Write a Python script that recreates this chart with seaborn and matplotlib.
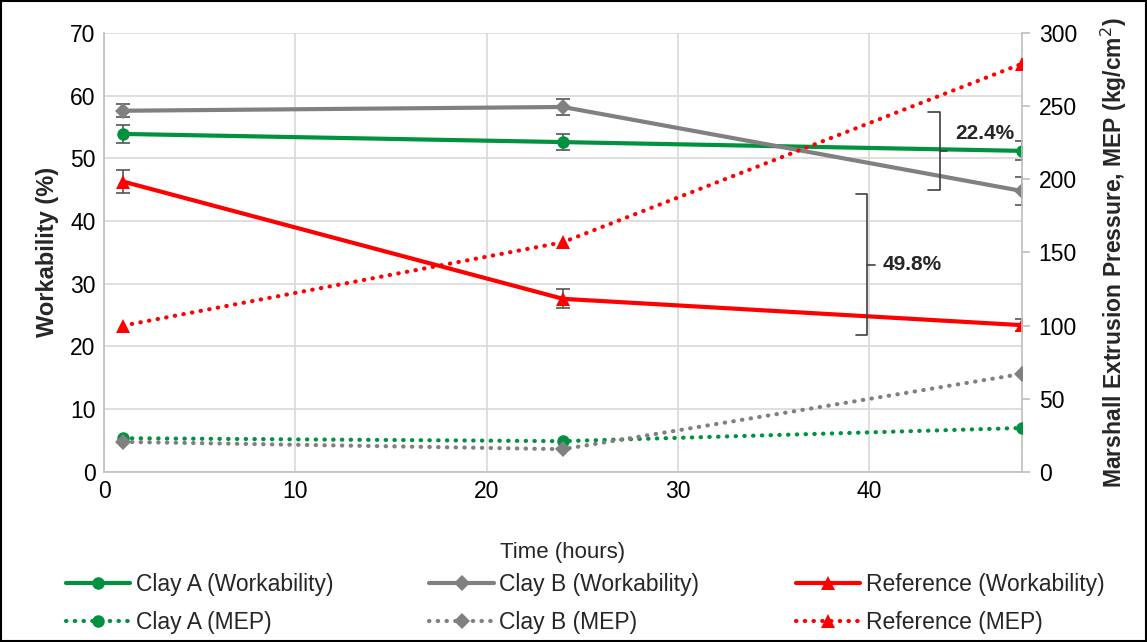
import matplotlib as mpl
import matplotlib.pyplot as plt
plt.switch_backend('Agg')
import seaborn as sns
import numpy as np
import pandas as pd
from matplotlib.font_manager import findfont, FontProperties

# data
hours = [1, 24, 48]
clayA_work = [53.9, 52.6, 51.2]
clayB_work = [57.6, 58.2, 44.8]
ref_work = [46.3, 27.6, 23.4]
clayA_work_err = [1.5, 1.3, 1.5]
clayB_work_err = [1.0, 1.2, 2.2]
ref_work_err = [1.8, 1.5, 1.0]
clayA_mep = [23, 21, 30]
clayB_mep = [20.5, 15.5, 67]
ref_mep = [100, 157, 279]
brackets = [
    # x, y_low, y_high, label
    (43.7, 45.0, 57.4, '22.4%'),
    (39.9, 21.8, 44.3, '49.8%'),
]

sns.set_theme(style='whitegrid')
fam = 'Liberation Sans Narrow'
try:
    findfont(FontProperties(family=fam), fallback_to_default=False)
except Exception:
    fam = 'Liberation Sans'
plt.rcParams['font.family'] = [fam, 'DejaVu Sans']

green = '#00923F'
grey = '#808080'
red = '#FF0000'

fig = plt.figure(figsize=(11.47, 6.42), dpi=100)
ax = fig.add_axes([0.0907, 0.265, 0.8003, 0.6836])
ax2 = ax.twinx()

series = [
    ('Clay A (Workability)', ax, clayA_work, clayA_work_err, green, 'o', '-', 9),
    ('Clay A (MEP)', ax2, clayA_mep, None, green, 'o', ':', 9),
    ('Clay B (Workability)', ax, clayB_work, clayB_work_err, grey, 'D', '-', 8),
    ('Clay B (MEP)', ax2, clayB_mep, None, grey, 'D', ':', 8),
    ('Reference (Workability)', ax, ref_work, ref_work_err, red, '^', '-', 10),
    ('Reference (MEP)', ax2, ref_mep, None, red, '^', ':', 10),
]
handles = []
for name, a, vals, err, col, mk, ls, ms in series:
    df = pd.DataFrame({'hours': hours, 'val': vals})
    sns.lineplot(data=df, x='hours', y='val', ax=a, color=col, marker=mk,
                 markersize=ms, markeredgewidth=0, linewidth=3, linestyle=ls,
                 dashes=False, label=name, legend=False, zorder=3)
    line = a.get_lines()[-1]
    if ls == ':':
        line.set_linestyle((0, (0.1, 2.0)))
        line.set_dash_capstyle('round')
    handles.append(line)
    if err is not None:
        a.errorbar(hours, vals, yerr=err, fmt='none', ecolor='#555555',
                   elinewidth=1.2, capsize=5, capthick=1.2, zorder=2)

ax.set_xlim(0, 48)
ax.set_ylim(0, 70)
ax2.set_ylim(0, 300)
ax.set_xticks(np.arange(0, 41, 10))
ax.set_yticks(np.arange(0, 71, 10))
ax2.set_yticks(np.arange(0, 301, 50))
ax2.grid(False)
ax.grid(True, color='#D9D9D9', linewidth=1.2)
for a in (ax, ax2):
    for s in a.spines.values():
        s.set_visible(False)
    a.tick_params(labelsize=16.5, colors='black', length=0, pad=6)
    a.set_xlabel('')
for side in ('left', 'bottom'):
    ax.spines[side].set_visible(True)
    ax.spines[side].set_color('#BFBFBF')
    ax.spines[side].set_linewidth(1.2)
ax2.spines['right'].set_visible(True)
ax2.spines['right'].set_color('#BFBFBF')
ax2.spines['right'].set_linewidth(1.2)
ax2.tick_params(axis='y', length=6, color='#BFBFBF', width=1.2)

ax.set_xlabel('Time (hours)', fontsize=16, labelpad=28)
ax.set_ylabel('Workability (%)', fontsize=17, fontweight='bold', labelpad=8)
ax2.set_ylabel('Marshall Extrusion Pressure, MEP (kg/cm$^2$)', fontsize=16.5,
               fontweight='bold', labelpad=16)

# bracket marks with percent labels
for bx, y0, y1, txt in brackets:
    w = 0.6
    ym = (y0 + y1) / 2
    ax.plot([bx - w, bx, bx, bx - w], [y1, y1, y0, y0], color='#404040', lw=1.2, zorder=4)
    ax.plot([bx, bx + 0.4], [ym, ym], color='#404040', lw=1.2, zorder=4)
    ax.text(bx + 0.8, ym + (2.8 if txt == '22.4%' else 0), txt, fontsize=15,
            fontweight='bold', va='center', ha='left', zorder=5)

fig.legend(handles=handles, labels=[s[0] for s in series], ncol=3,
           loc='lower center', bbox_to_anchor=(0.51, -0.02), frameon=False,
           fontsize=16.5, numpoints=1, handlelength=2.8, columnspacing=4.2,
           handletextpad=0.25, labelspacing=0.65)

fig.patches.append(mpl.patches.Rectangle((0.001, 0.001), 0.998, 0.998,
                   transform=fig.transFigure, fill=False, edgecolor='black', lw=1.5))
fig.savefig('out.png', dpi=100, facecolor='white')
